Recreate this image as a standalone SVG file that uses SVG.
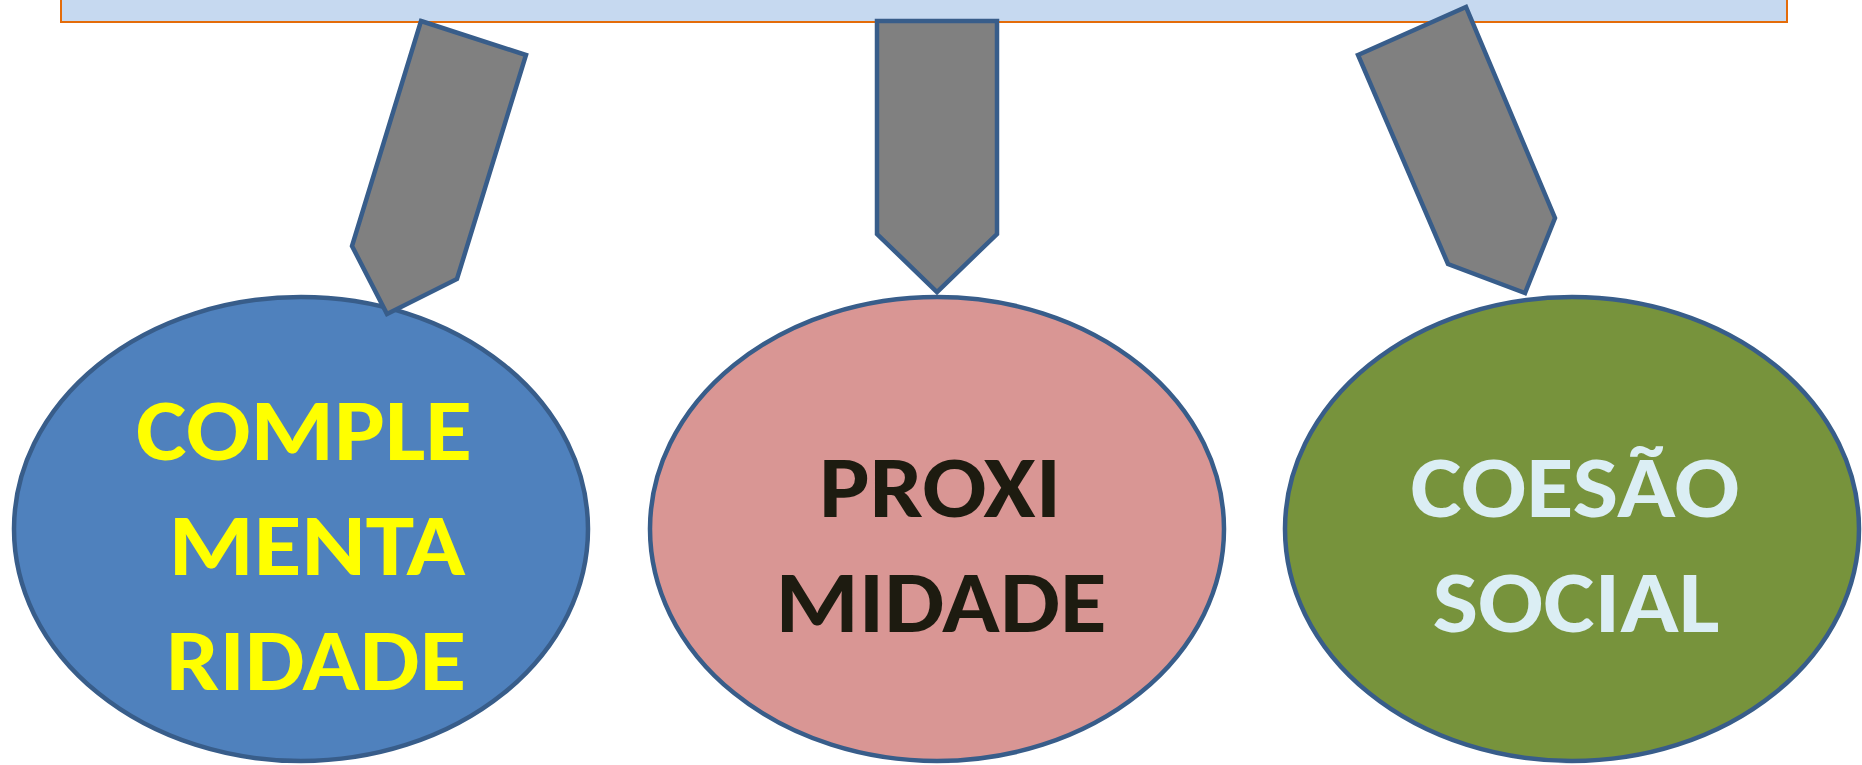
<svg xmlns="http://www.w3.org/2000/svg" width="1862" height="765" viewBox="0 0 1862 765">
  <style>
    .bar { fill: #C6D9F0; stroke: #E46C0A; stroke-width: 2; }
    .node { stroke: #385D8A; stroke-width: 4.5; }
    .pencil { fill: #808080; stroke: #385D8A; stroke-width: 4.5; stroke-linejoin: miter; }
    .label { font-family: "Carlito", "Lato", "Open Sans", sans-serif; font-weight: 700; font-size: 88px; text-anchor: middle; }
  </style>
  <rect width="1862" height="765" fill="#FFFFFF"/>

  <!-- banner strip along the top edge -->
  <g id="banner">
    <rect class="bar" x="61" y="-10" width="1726" height="32"/>
  </g>

  <g id="node-complementaridade">
    <ellipse class="node" cx="301" cy="529" rx="287" ry="232" fill="#4F81BD"/>
    <g class="label" fill="#FFFF00">
      <text x="304" y="460" textLength="336" lengthAdjust="spacingAndGlyphs">COMPLE</text>
      <text x="317" y="575" textLength="297" lengthAdjust="spacingAndGlyphs">MENTA</text>
      <text x="316" y="690" textLength="300" lengthAdjust="spacingAndGlyphs">RIDADE</text>
    </g>
  </g>

  <g id="node-proximidade">
    <ellipse class="node" cx="937" cy="529" rx="287" ry="232" fill="#D99694"/>
    <g class="label" fill="#1D1B10">
      <text x="940" y="517" textLength="242" lengthAdjust="spacingAndGlyphs">PROXI</text>
      <text x="941" y="632" textLength="331" lengthAdjust="spacingAndGlyphs">MIDADE</text>
    </g>
  </g>

  <g id="node-coesao-social">
    <ellipse class="node" cx="1572" cy="529" rx="287" ry="232" fill="#77933C"/>
    <g class="label" fill="#DBEEF4">
      <text x="1575" y="517" textLength="329" lengthAdjust="spacingAndGlyphs">COESÃO</text>
      <text x="1576" y="632" textLength="287" lengthAdjust="spacingAndGlyphs">SOCIAL</text>
    </g>
  </g>

  <!-- pencil-shaped arrows from the banner down to each ellipse -->
  <g id="connectors">
    <polygon class="pencil" points="421,21 526,55 457,279 387,314 352,246"/>
    <polygon class="pencil" points="877,21 997,21 997,234 937,292 877,234"/>
    <polygon class="pencil" points="1358,55 1466,7 1555,218 1525,293 1448,264"/>
  </g>
</svg>
